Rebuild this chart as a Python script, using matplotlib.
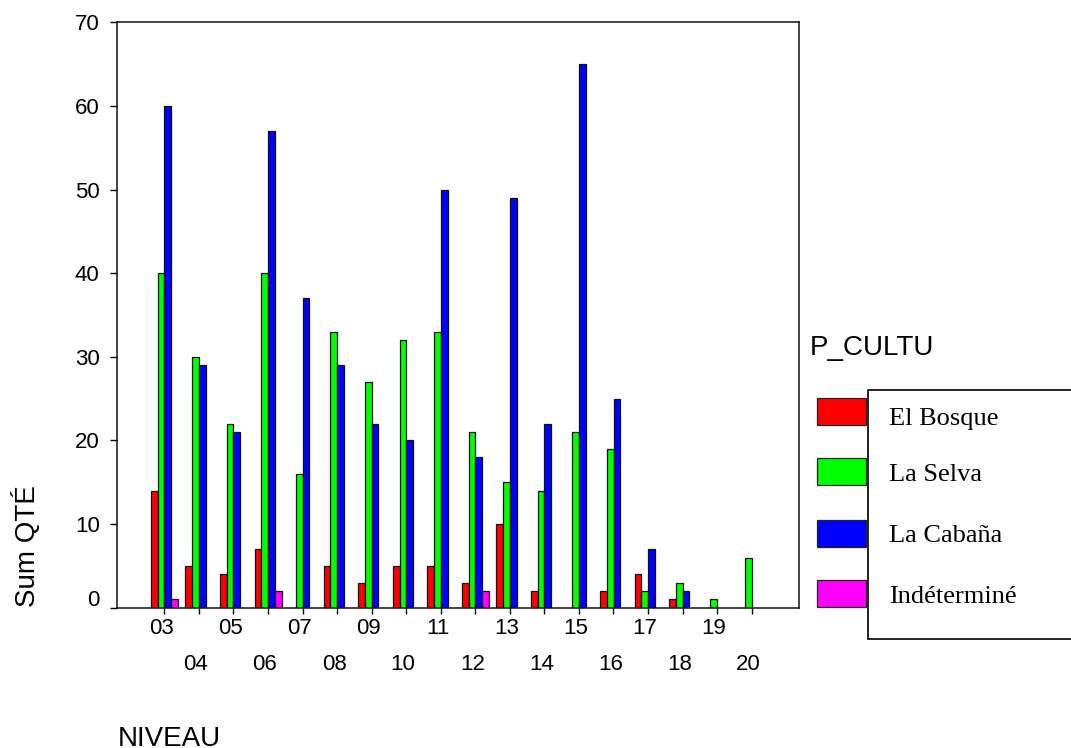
import numpy as np
import matplotlib
matplotlib.use("Agg")
import matplotlib.pyplot as plt
from matplotlib.patches import Rectangle
import matplotlib.transforms as mtransforms

categories = ["03", "04", "05", "06", "07", "08", "09", "10", "11",
              "12", "13", "14", "15", "16", "17", "18", "19", "20"]
el_bosque = [14, 5, 4, 7, 0, 5, 3, 5, 5, 3, 10, 2, 0, 2, 4, 1, 0, 0]
la_selva = [40, 30, 22, 40, 16, 33, 27, 32, 33, 21, 15, 14, 21, 19, 2, 3, 1, 6]
la_cabana = [60, 29, 21, 57, 37, 29, 22, 20, 50, 18, 49, 22, 65, 25, 7, 2, 0, 0]
indetermine = [1, 0, 0, 2, 0, 0, 0, 0, 0, 2, 0, 0, 0, 0, 0, 0, 0, 0]
series_names = ["El Bosque", "La Selva", "La Cabaña", "Indéterminé"]
series_values = [el_bosque, la_selva, la_cabana, indetermine]
colors = ["#FF0000", "#00FF00", "#0000FF", "#FF00FF"]
yticks = [0, 10, 20, 30, 40, 50, 60, 70]

W, H = 1071, 748
fig = plt.figure(figsize=(W / 100, H / 100), dpi=100)
plt.rcParams['font.family'] = ['Liberation Sans', 'DejaVu Sans']

ax_l, ax_r, ax_t, ax_b = 117, 799, 22.3, 607.7
ax = fig.add_axes([ax_l / W, 1 - ax_b / H, (ax_r - ax_l) / W, (ax_b - ax_t) / H])

x = np.arange(len(categories))
offsets = [-0.29, -0.095, 0.10, 0.295]
width = 0.195
for vals, off, col in zip(series_values, offsets, colors):
    v = np.array(vals, dtype=float)
    mask = v > 0
    ax.bar(x[mask] + off, v[mask], width=width, color=col,
           edgecolor="#111111", linewidth=0.9, zorder=2)

ax.set_ylim(0, 70)
ax.set_xlim(-1.369, 18.37)
ax.set_yticks(yticks)
ax.set_yticklabels([str(t) for t in yticks])

odd_idx = x[::2]
even_idx = x[1::2]
ax.set_xticks(odd_idx)
ax.set_xticklabels([categories[i] for i in odd_idx])
ax.set_xticks(even_idx, minor=True)
ax.set_xticklabels([categories[i] for i in even_idx], minor=True)

ax.tick_params(axis='x', which='major', direction='out', length=4.5, width=1,
               labelsize=16, pad=3)
ax.tick_params(axis='x', which='minor', direction='out', length=4.5, width=1,
               labelsize=16, pad=28.5)
ax.tick_params(axis='y', direction='out', length=5, width=1, labelsize=16, pad=7.5)

for sp in ax.spines.values():
    sp.set_linewidth(1.1)
    sp.set_color("#111111")

# small horizontal shift of x labels
shift = mtransforms.ScaledTranslation(-3 / 100, 0, fig.dpi_scale_trans)
for lab in ax.get_xticklabels() + ax.get_xticklabels(minor=True):
    lab.set_transform(lab.get_transform() + shift)
# zero label sits a bit above its tick
up = mtransforms.ScaledTranslation(0, 10 / 100, fig.dpi_scale_trans)
ylabs = ax.get_yticklabels()
ylabs[0].set_transform(ylabs[0].get_transform() + up)

# axis titles
fig.text(26 / W, 1 - 607 / H, "Sum QTÉ", rotation=90, ha='center', va='bottom',
         fontsize=20)
fig.text(118 / W, 1 - 746.5 / H, "NIVEAU", ha='left', va='baseline', fontsize=20)

# legend
fig.text(810 / W, 1 - 355 / H, "P_CULTU", ha='left', va='baseline', fontsize=20)
box = Rectangle((868 / W, 1 - 639 / H), (1090 - 868) / W, (639 - 390) / H,
                transform=fig.transFigure, facecolor='white', edgecolor='black',
                linewidth=1.2, clip_on=False)
fig.add_artist(box)
patch_tops = [397.7, 458, 520, 580]
label_baselines = [425, 481, 542, 603.3]
for name, col, pt, bl in zip(series_names, colors, patch_tops, label_baselines):
    r = Rectangle((817.3 / W, 1 - (pt + 26.8) / H), (866 - 817.3) / W, 26.8 / H,
                  transform=fig.transFigure, facecolor=col, edgecolor='#222222',
                  linewidth=0.9)
    fig.add_artist(r)
    fig.text(889 / W, 1 - bl / H, name, ha='left', va='baseline', fontsize=19,
             family=['Liberation Serif', 'DejaVu Serif'])

fig.savefig("out.png", dpi=100, facecolor='white')
